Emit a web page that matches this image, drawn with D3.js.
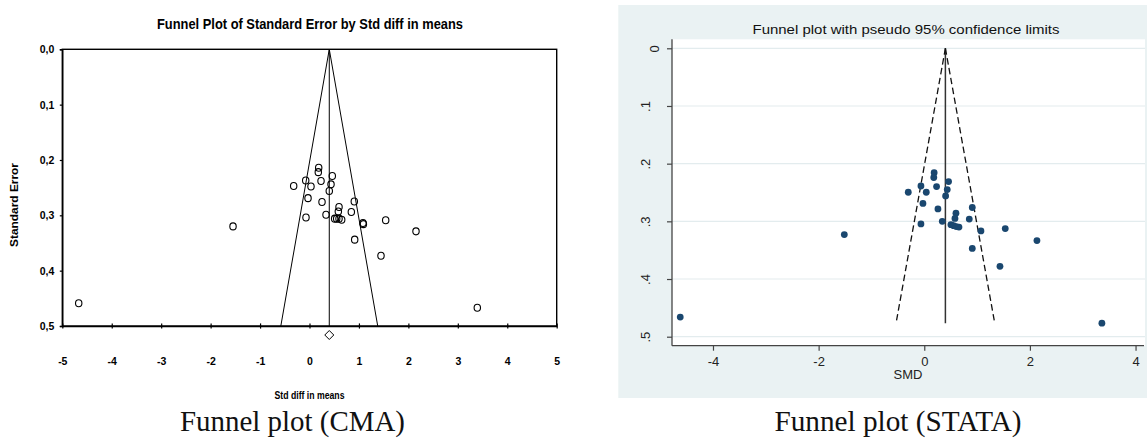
<!DOCTYPE html>
<html>
<head>
<meta charset="utf-8">
<script src="https://cdn.jsdelivr.net/npm/d3@7"></script>
<style>
  html, body { margin: 0; padding: 0; background: #fff; }
  svg { display: block; }
  .narrow { font-family: "Liberation Sans Narrow", "Arial Narrow", "Liberation Sans", Arial, sans-serif; font-weight: bold; font-stretch: condensed; }
  .stata { font-family: "Liberation Sans", Arial, sans-serif; }
  .cap { font-family: "Liberation Serif", "DejaVu Serif", serif; }
</style>
</head>
<body>
<svg id="chart" width="1148" height="439"></svg>
<script>
// ---------------- data ----------------
// CMA panel: Std diff in means and Standard Error of each study
const cmaSMD = [0.186, 0.178, 0.461, -0.077, 0.233, -0.320, 0.030, 0.435, 0.400, -0.030,
                0.253, 0.906, 0.597, 0.583, 0.846, 0.334, -0.071, 0.509, 0.550, 0.597,
                0.651, 1.082, 1.090, 1.541, 2.154, 0.914, 1.446, -1.547, -4.668, 3.394];
const cmaSE  = [0.214, 0.222, 0.229, 0.237, 0.238, 0.247, 0.248, 0.244, 0.256, 0.269,
                0.276, 0.275, 0.285, 0.293, 0.294, 0.299, 0.304, 0.306, 0.306, 0.306,
                0.308, 0.314, 0.316, 0.309, 0.329, 0.344, 0.373, 0.320, 0.459, 0.467];
// STATA panel: SMD and its standard error
const stataSMD = [0.187, 0.180, 0.460, -0.063, 0.233, -0.303, 0.038, 0.435, 0.404, -0.025,
                  0.259, 0.909, 0.600, 0.581, 0.852, 0.341, -0.063, 0.505, 0.555, 0.606,
                  0.657, 1.073, 1.533, 2.133, 0.909, 1.433, -1.514, -4.620, 3.363];
const stataSE  = [0.2156, 0.224, 0.231, 0.2387, 0.2398, 0.2496, 0.2496, 0.245, 0.256, 0.269,
                  0.2785, 0.276, 0.286, 0.295, 0.296, 0.300, 0.3045, 0.3057, 0.3075, 0.309,
                  0.310, 0.3166, 0.3126, 0.3334, 0.347, 0.378, 0.323, 0.466, 0.4766];
const pooledSMD = 0.40;           // pooled effect (vertical line / diamond)
const cmaXTicks = [-5, -4, -3, -2, -1, 0, 1, 2, 3, 4, 5];
const cmaYTicks = [0, 0.1, 0.2, 0.3, 0.4, 0.5];
const stataXTicks = [-4, -2, 0, 2, 4];
const stataYTicks = [0, 0.1, 0.2, 0.3, 0.4, 0.5];
const cmaTitle = "Funnel Plot of Standard Error by Std diff in means";
const stataTitle = "Funnel plot with pseudo 95% confidence limits";

// ---------------- drawing ----------------
const svg = d3.select("#chart");
const plainInt = d => String(d);   // hyphen-minus as in the source

// ===== Left panel (CMA) =====
const xL = d3.scaleLinear().domain([-5, 5]).range([62.3, 556.7]);
const yL = d3.scaleLinear().domain([0, 0.5]).range([49.3, 326]);
const gL = svg.append("g");

// frame
gL.append("rect")
  .attr("x", xL(-5)).attr("y", yL(0))
  .attr("width", xL(5) - xL(-5)).attr("height", yL(0.5) - yL(0))
  .attr("fill", "none").attr("stroke", "#000").attr("stroke-width", 1.4);

// x axis
const axL = gL.append("g").attr("transform", `translate(0,${yL(0.5)})`)
  .call(d3.axisBottom(xL).tickValues(cmaXTicks).tickSize(0).tickFormat(plainInt));
axL.select(".domain").attr("stroke", "#000").attr("stroke-width", 1.4);
axL.selectAll(".tick line").attr("y1", -2.6).attr("y2", 2.6).attr("stroke", "#000").attr("stroke-width", 1.2);
axL.selectAll(".tick text").attr("y", 35.5).attr("dy", "0.35em").attr("class", "narrow")
  .attr("font-size", 10.5).attr("fill", "#000");

// y axis
const ayL = gL.append("g").attr("transform", `translate(${xL(-5)},0)`)
  .call(d3.axisLeft(yL).tickValues(cmaYTicks).tickSize(2.5)
        .tickFormat(d => d3.format(".1f")(d).replace(".", ",")));
ayL.select(".domain").attr("stroke", "#000").attr("stroke-width", 1.4);
ayL.selectAll(".tick line").attr("stroke", "#000").attr("stroke-width", 1.2);
ayL.selectAll(".tick text").attr("x", -8).attr("class", "narrow").attr("font-size", 10.5).attr("fill", "#000");

// funnel lines
const seMaxL = 0.5;
gL.append("line").attr("x1", xL(pooledSMD)).attr("y1", yL(0)).attr("x2", xL(pooledSMD)).attr("y2", yL(seMaxL))
  .attr("stroke", "#000").attr("stroke-width", 1);
[-1, 1].forEach(s => {
  gL.append("line").attr("x1", xL(pooledSMD)).attr("y1", yL(0))
    .attr("x2", xL(pooledSMD + s * 1.96 * seMaxL)).attr("y2", yL(seMaxL))
    .attr("stroke", "#000").attr("stroke-width", 1);
});

// points
gL.append("g").selectAll("ellipse").data(cmaSMD.map((v, i) => [v, cmaSE[i]])).join("ellipse")
  .attr("cx", d => xL(d[0])).attr("cy", d => yL(d[1]))
  .attr("rx", 3.2).attr("ry", 3.5)
  .attr("fill", "none").attr("stroke", "#000").attr("stroke-width", 1.1);

// diamond summary
const dcx = xL(pooledSMD), dcy = yL(0.5) + 9;
gL.append("path")
  .attr("d", `M${dcx},${dcy - 4.5}L${dcx + 4.5},${dcy}L${dcx},${dcy + 4.5}L${dcx - 4.5},${dcy}Z`)
  .attr("fill", "#fff").attr("stroke", "#000").attr("stroke-width", 1);

// titles
gL.append("text").attr("class", "narrow").attr("x", 310).attr("y", 28.5)
  .attr("text-anchor", "middle").attr("font-size", 15).attr("textLength", 306)
  .attr("lengthAdjust", "spacingAndGlyphs").text(cmaTitle);
gL.append("text").attr("class", "narrow").attr("x", 309.5).attr("y", 398.5)
  .attr("text-anchor", "middle").attr("font-size", 10).attr("textLength", 70)
  .attr("lengthAdjust", "spacingAndGlyphs").text("Std diff in means");
gL.append("text").attr("transform", "translate(18.3,205) rotate(-90)")
  .attr("text-anchor", "middle").attr("font-family", "Liberation Sans, Arial, sans-serif")
  .attr("font-weight", "bold").attr("font-size", 10).attr("textLength", 84)
  .attr("lengthAdjust", "spacingAndGlyphs").text("Standard Error");
gL.append("text").attr("class", "cap").attr("x", 292.5).attr("y", 431)
  .attr("text-anchor", "middle").attr("font-size", 28.5).attr("textLength", 225)
  .attr("lengthAdjust", "spacingAndGlyphs").attr("fill", "#111").text("Funnel plot (CMA)");

// ===== Right panel (STATA) =====
const gR = svg.append("g");
gR.append("rect").attr("x", 618.3).attr("y", 5).attr("width", 1147 - 618.3).attr("height", 398 - 5)
  .attr("fill", "#eaf2f3");

const xR = d3.scaleLinear().domain([-4.776, 4.16]).range([672, 1144]);
const yR = d3.scaleLinear().domain([-0.0156, 0.5156]).range([39.3, 345.7]);

gR.append("rect").attr("x", xR.range()[0]).attr("y", yR.range()[0])
  .attr("width", xR.range()[1] - xR.range()[0] + 1).attr("height", yR.range()[1] - yR.range()[0])
  .attr("fill", "#fff");

// gridlines
gR.append("g").selectAll("line").data(stataYTicks).join("line")
  .attr("x1", xR.range()[0]).attr("x2", xR.range()[1] + 1)
  .attr("y1", d => yR(d)).attr("y2", d => yR(d))
  .attr("stroke", "#e3ecee").attr("stroke-width", 1.2);

// y axis
const ayR = gR.append("g").attr("transform", `translate(${xR.range()[0]},0)`)
  .call(d3.axisLeft(yR).tickValues(stataYTicks).tickSize(5)
        .tickFormat(d => d === 0 ? "0" : d3.format(".1f")(d).replace(/^0/, "")));
ayR.select(".domain").attr("d", `M0,${yR.range()[0]}V${yR.range()[1]}`).attr("stroke", "#444").attr("stroke-width", 1.3);
ayR.selectAll(".tick line").attr("stroke", "#444").attr("stroke-width", 1.2);
ayR.selectAll(".tick text")
  .attr("class", "stata").attr("font-size", 13).attr("fill", "#222")
  .attr("text-anchor", "middle").attr("dy", 0).attr("x", 0)
  .attr("transform", d => `translate(${d === 0 ? -13.5 : -22.5},0) rotate(-90)`);

// x axis
const axR = gR.append("g").attr("transform", `translate(0,${yR.range()[1]})`)
  .call(d3.axisBottom(xR).tickValues(stataXTicks).tickSize(5).tickFormat(plainInt));
axR.select(".domain").attr("d", `M${xR.range()[0]},0H${xR.range()[1]}`).attr("stroke", "#444").attr("stroke-width", 1.3);
axR.selectAll(".tick line").attr("stroke", "#444").attr("stroke-width", 1.2);
axR.selectAll(".tick text").attr("class", "stata").attr("font-size", 13).attr("fill", "#222")
  .attr("y", 20.5).attr("dy", 0);

// funnel
const seMaxR = d3.max(stataSE);
gR.append("line").attr("x1", xR(pooledSMD)).attr("y1", yR(0)).attr("x2", xR(pooledSMD)).attr("y2", yR(seMaxR))
  .attr("stroke", "#333").attr("stroke-width", 1.5);
[-1, 1].forEach(s => {
  gR.append("line").attr("x1", xR(pooledSMD)).attr("y1", yR(0))
    .attr("x2", xR(pooledSMD + s * 1.96 * seMaxR)).attr("y2", yR(seMaxR))
    .attr("stroke", "#111").attr("stroke-width", 1.3).attr("stroke-dasharray", "6.5,3.5");
});

// points
gR.append("g").selectAll("circle").data(stataSMD.map((v, i) => [v, stataSE[i]])).join("circle")
  .attr("cx", d => xR(d[0])).attr("cy", d => yR(d[1]))
  .attr("r", 3.4).attr("fill", "#1a476f");

// titles
gR.append("text").attr("class", "stata").attr("x", 906).attr("y", 33.5)
  .attr("text-anchor", "middle").attr("font-size", 13.5).attr("fill", "#111")
  .attr("textLength", 307).attr("lengthAdjust", "spacingAndGlyphs").text(stataTitle);
gR.append("text").attr("class", "stata").attr("x", (xR.range()[0] + xR.range()[1]) / 2).attr("y", 379)
  .attr("text-anchor", "middle").attr("font-size", 13).attr("fill", "#222").text("SMD");
gR.append("text").attr("class", "cap").attr("x", 898).attr("y", 431)
  .attr("text-anchor", "middle").attr("font-size", 28.5).attr("textLength", 247)
  .attr("lengthAdjust", "spacingAndGlyphs").attr("fill", "#111").text("Funnel plot (STATA)");
</script>
</body>
</html>
